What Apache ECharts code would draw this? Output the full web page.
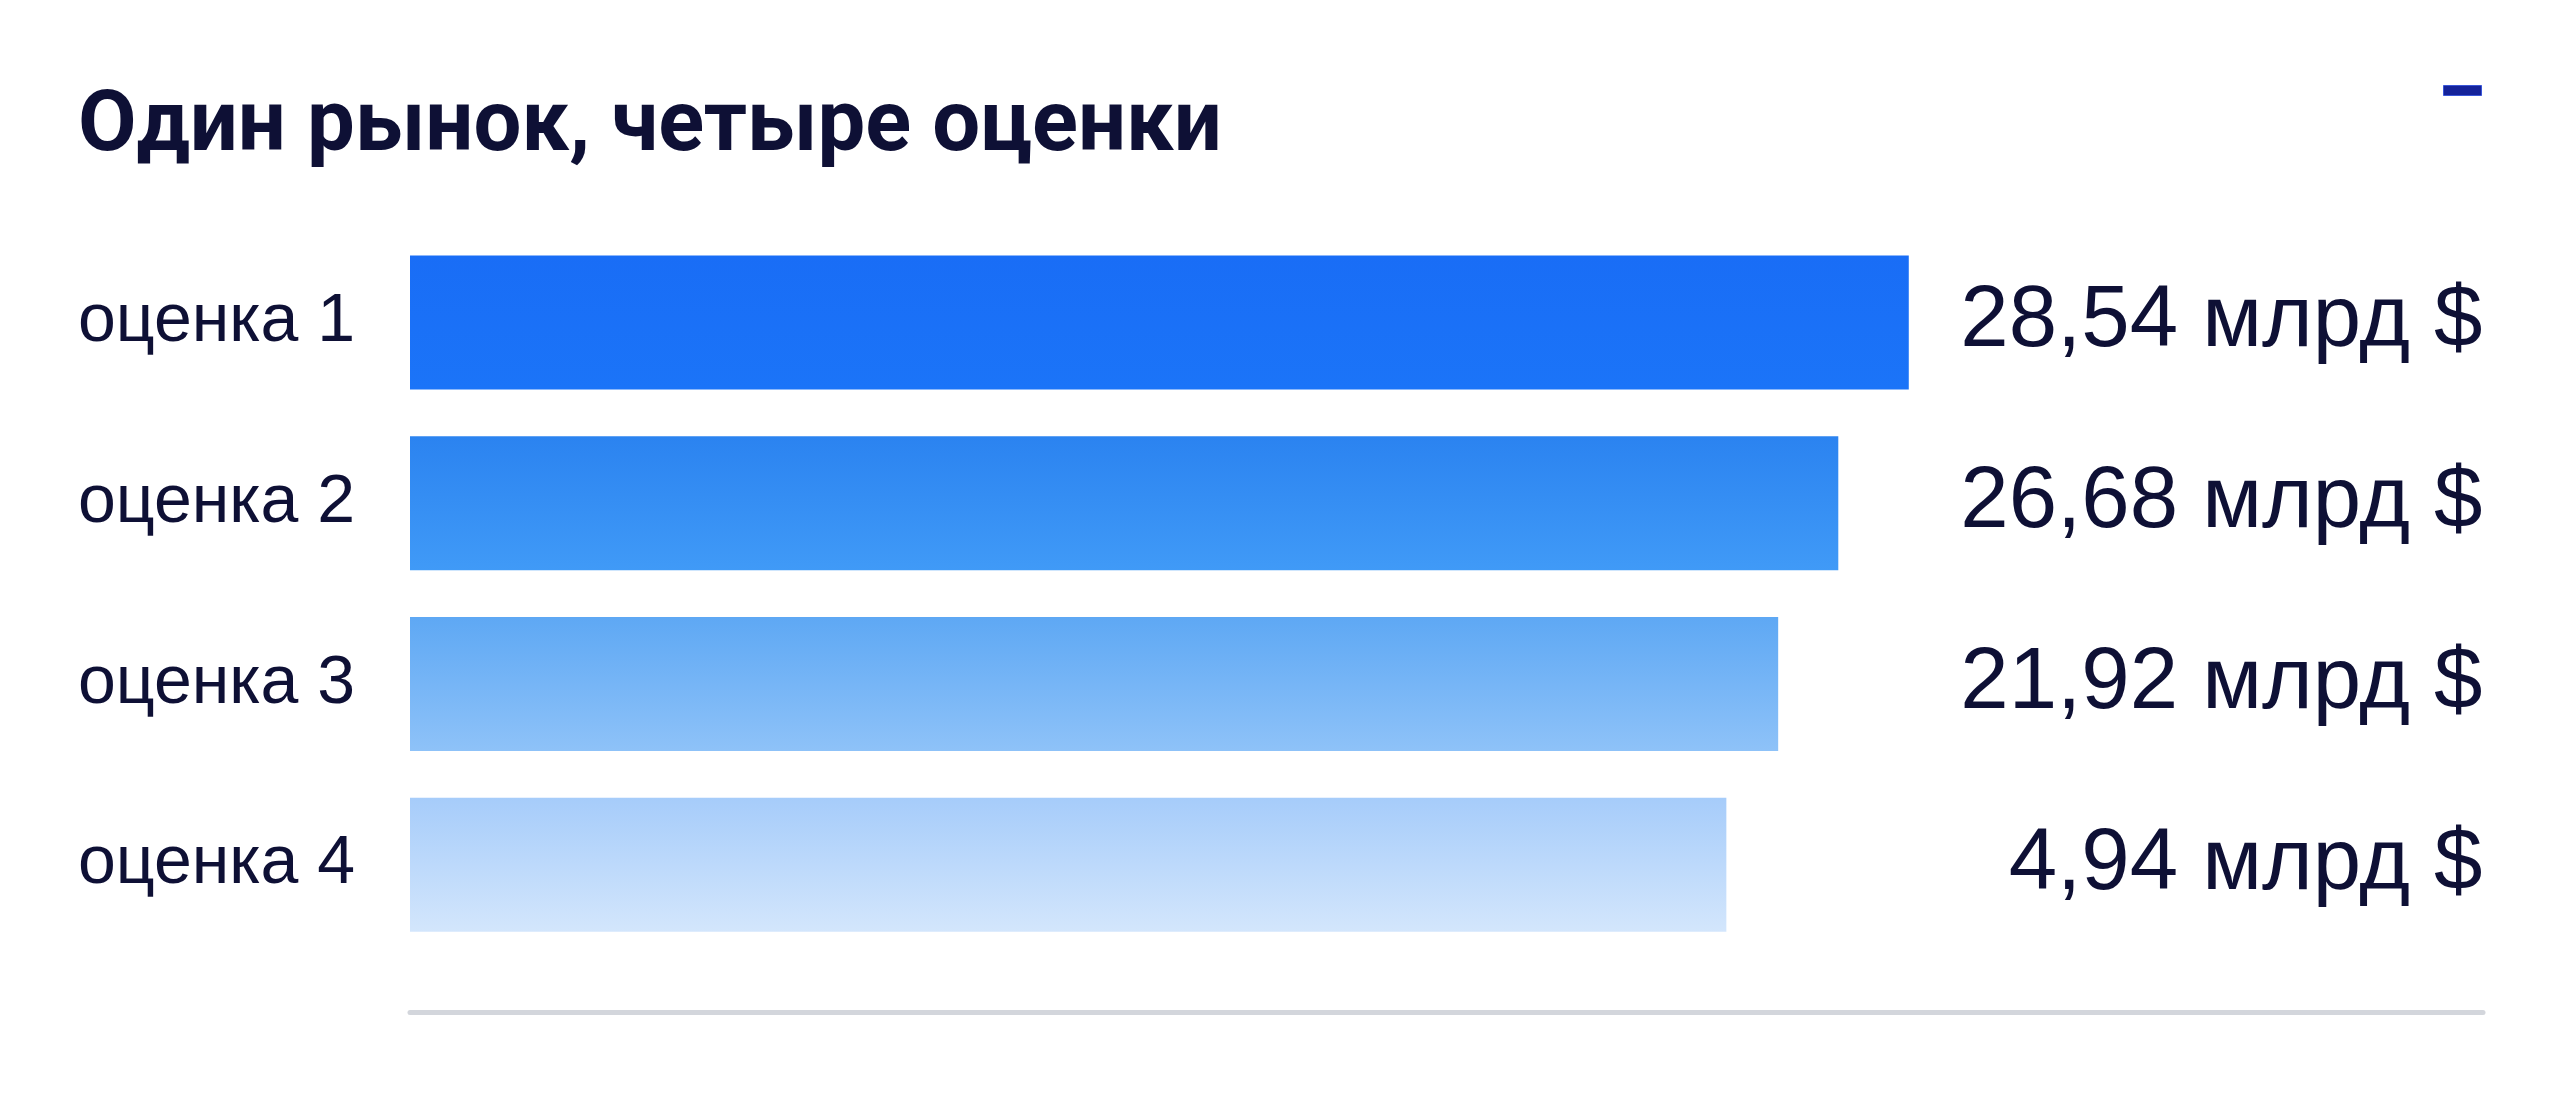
<!DOCTYPE html>
<html>
<head>
<meta charset="utf-8">
<script src="https://cdn.jsdelivr.net/npm/echarts@6/dist/echarts.min.js"></script>
<style>
html,body{margin:0;padding:0;background:#ffffff;}
#chart{width:2560px;height:1097px;}
</style>
</head>
<body>
<div id="chart"></div>
<script>
// Data
const titleText = 'Один рынок, четыре оценки';
const categories = ['оценка 1', 'оценка 2', 'оценка 3', 'оценка 4'];
const values = [28.54, 26.68, 21.92, 4.94];
const valueLabels = ['28,54 млрд $', '26,68 млрд $', '21,92 млрд $', '4,94 млрд $'];
// drawn bar lengths (share of the axis, 0–100)
const barLengths = [72.3, 68.9, 66.0, 63.5];
const gradientTop = ['#196df6', '#2b83f0', '#5ea8f4', '#a6ccfa'];
const gradientBottom = ['#1b74f8', '#409af7', '#8ec2f8', '#d3e6fc'];

const chart = echarts.init(document.getElementById('chart'));
const textColor = '#0e1035';

chart.setOption({
  backgroundColor: '#ffffff',
  animation: false,
  title: {
    text: titleText,
    left: 73,
    top: 81,
    textStyle: {
      fontFamily: 'Roboto',
      fontWeight: 'bold',
      fontSize: 85,
      color: textColor
    }
  },
  graphic: [{
    type: 'rect',
    right: 78,
    top: 85,
    shape: { width: 38, height: 10 },
    style: { fill: '#15239a', stroke: '#3a56d8', lineWidth: 1 }
  }],
  grid: {
    left: 410,
    right: 77,
    top: 232,
    bottom: 142,
    containLabel: false
  },
  xAxis: {
    type: 'value',
    min: 0,
    max: 100,
    position: 'bottom',
    offset: 57,
    axisLine: { show: true, lineStyle: { color: '#d3d6dc', width: 5 } },
    axisTick: { show: false },
    axisLabel: { show: false },
    splitLine: { show: false }
  },
  yAxis: {
    type: 'category',
    inverse: true,
    data: categories,
    axisLine: { show: false },
    axisTick: { show: false },
    axisLabel: {
      align: 'left',
      margin: 332,
      fontFamily: 'Liberation Sans',
      fontSize: 68,
      color: textColor
    }
  },
  series: [{
    type: 'bar',
    barWidth: 134,
    data: barLengths.map((v, i) => ({
      value: v,
      itemStyle: {
        color: new echarts.graphic.LinearGradient(0, 0, 0, 1, [
          { offset: 0, color: gradientTop[i] },
          { offset: 1, color: gradientBottom[i] }
        ])
      }
    })),
    label: { show: false }
  }, {
    type: 'scatter',
    symbolSize: 1,
    silent: true,
    itemStyle: { color: 'rgba(0,0,0,0)', opacity: 1 },
    data: categories.map((c, i) => [100, i]),
    label: {
      show: true,
      position: 'left',
      distance: 0,
      align: 'right',
      fontFamily: 'Liberation Sans',
      fontSize: 87,
      color: textColor,
      formatter: p => valueLabels[p.dataIndex]
    }
  }]
});
</script>
</body>
</html>
